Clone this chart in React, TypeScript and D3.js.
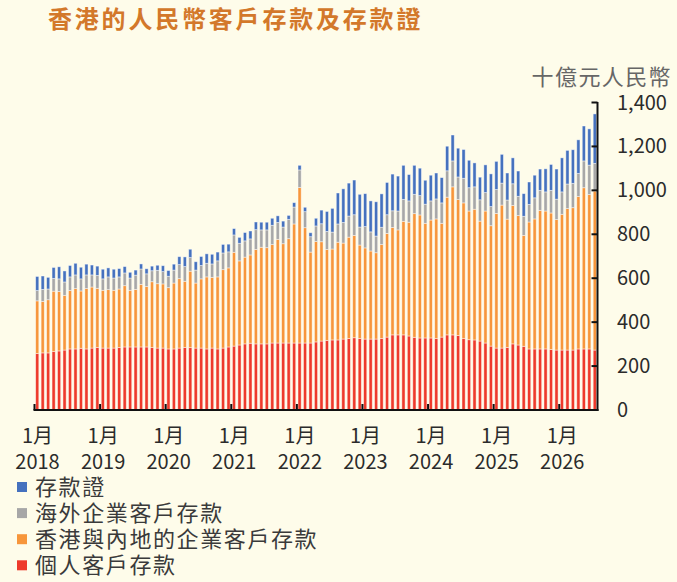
import React, { useRef, useEffect } from 'react';
import * as d3 from 'd3';

const WIDTH = 677;
const HEIGHT = 582;

const YEARS = ["2018", "2019", "2020", "2021", "2022", "2023", "2024", "2025", "2026"];
const MONTH_LABEL = "1月";
const MONTH_COUNT = 103;
const Y_TICKS = [0, 200, 400, 600, 800, 1000, 1200, 1400];

// 個人客戶存款
const personal = [
    257, 260, 260, 266, 269, 273, 278, 278, 281, 278, 282, 285,
    282, 282, 282, 285, 287, 287, 287, 287, 287, 284, 282, 282,
    278, 278, 282, 285, 284, 282, 282, 278, 282, 278, 282, 287,
    291, 296, 301, 304, 301, 301, 301, 305, 305, 305, 305, 305,
    305, 305, 305, 310, 314, 317, 319, 319, 323, 326, 329, 326,
    323, 323, 323, 326, 332, 342, 342, 342, 337, 331, 328, 328,
    328, 325, 332, 342, 342, 339, 325, 320, 319, 314, 305, 291,
    282, 282, 285, 301, 296, 290, 278, 278, 278, 278, 275, 273,
    273, 273, 273, 278, 278, 278, 273
];

// 香港與內地的企業客戶存款
const corporate = [
    240, 234, 242, 275, 270, 249, 266, 275, 261, 275, 278, 269,
    263, 266, 263, 266, 279, 258, 262, 285, 275, 300, 293, 292,
    279, 300, 316, 301, 348, 296, 315, 328, 322, 328, 357, 360,
    427, 383, 395, 402, 430, 440, 438, 448, 472, 452, 475, 542,
    708, 525, 414, 457, 452, 414, 414, 445, 437, 461, 466, 425,
    415, 401, 393, 427, 472, 489, 478, 517, 518, 563, 560, 522,
    537, 545, 518, 627, 674, 619, 618, 586, 595, 546, 601, 548,
    613, 651, 584, 630, 589, 505, 578, 592, 631, 628, 622, 594,
    618, 644, 648, 694, 734, 703, 724
];

// 海外企業客戶存款
const overseas = [
    47, 55, 49, 58, 58, 61, 62, 62, 55, 62, 55, 59,
    52, 58, 56, 55, 58, 56, 65, 70, 58, 50, 61, 56,
    52, 59, 64, 67, 62, 59, 61, 62, 61, 73, 76, 73,
    79, 80, 74, 73, 90, 79, 81, 88, 77, 76, 88, 77,
    80, 73, 70, 71, 82, 82, 77, 83, 94, 96, 94, 82,
    97, 87, 76, 79, 85, 76, 86, 100, 97, 88, 88, 87,
    87, 91, 93, 120, 118, 103, 112, 106, 102, 97, 84, 87,
    109, 100, 87, 99, 88, 87, 80, 96, 91, 87, 103, 93,
    102, 112, 111, 105, 122, 134, 126
];

// 存款證
const certificates = [
    64, 61, 53, 50, 55, 50, 52, 53, 53, 49, 45, 42,
    44, 41, 40, 38, 29, 26, 23, 23, 23, 21, 23, 27,
    26, 27, 36, 44, 38, 38, 41, 43, 44, 40, 39, 35,
    29, 27, 38, 36, 35, 35, 35, 32, 30, 27, 18, 20,
    21, 20, 18, 35, 62, 91, 108, 141, 153, 150, 158, 149,
    150, 141, 156, 152, 147, 167, 159, 155, 120, 132, 125, 109,
    117, 118, 115, 112, 118, 131, 131, 125, 109, 103, 126, 149,
    128, 131, 123, 118, 115, 103, 102, 103, 97, 105, 118, 137,
    155, 153, 153, 153, 159, 165, 225
];

const SERIES = [
    { key: "personal", label: "個人客戶存款", color: "#EE3A2B", values: personal },
    { key: "corporate", label: "香港與內地的企業客戶存款", color: "#F7963B", values: corporate },
    { key: "overseas", label: "海外企業客戶存款", color: "#A7A7A7", values: overseas },
    { key: "certificates", label: "存款證", color: "#4571BE", values: certificates }
];

const FONT = "'Noto Sans CJK TC', 'Noto Sans', sans-serif";

const App: React.FC = () => {
    const svgRef = useRef<SVGSVGElement>(null);

    useEffect(() => {
        if (!svgRef.current) return;
        const svg = d3.select(svgRef.current);
        svg.selectAll("*").remove();

        const left = 34.5;
        const right = 597.5;
        const top = 102.5;
        const bottom = 410;

        svg.append("rect")
            .attr("width", WIDTH)
            .attr("height", HEIGHT)
            .attr("fill", "#FEFCEA");

        const months = d3.range(MONTH_COUNT);
        const rows = months.map(i => {
            const row: any = { i };
            SERIES.forEach(s => { row[s.key] = s.values[i]; });
            return row;
        });

        const xScale = d3.scaleBand<number>()
            .domain(months)
            .range([left, right])
            .paddingInner(0.42)
            .paddingOuter(0.21);

        const yScale = d3.scaleLinear()
            .domain([0, 1400])
            .range([bottom, top]);

        const stacked = d3.stack<any>().keys(SERIES.map(s => s.key))(rows);

        const bars = svg.append("g");
        stacked.forEach((layer, li) => {
            bars.append("g")
                .attr("fill", SERIES[li].color)
                .selectAll("rect")
                .data(layer)
                .join("rect")
                .attr("x", (d: any) => xScale(d.data.i)!)
                .attr("width", xScale.bandwidth())
                .attr("y", d => yScale(d[1]))
                .attr("height", d => yScale(d[0]) - yScale(d[1]))
                .attr("stroke", "rgba(255,255,255,0.55)")
                .attr("stroke-width", 0.8);
        });

        // year boundaries: step * 12 from the start of the range
        const step = xScale.step();
        const yearX = (k: number) => xScale(k * 12)! - step * xScale.paddingInner() / 2;
        const boundaries = YEARS.map((_, k) => k === 0 ? left : yearX(k));

        const axis = svg.append("g").attr("stroke", "#111").attr("stroke-width", 2);
        axis.append("line")
            .attr("x1", left - 1).attr("x2", right + 1)
            .attr("y1", bottom).attr("y2", bottom);
        axis.append("line")
            .attr("x1", right).attr("x2", right)
            .attr("y1", top - 0.5).attr("y2", bottom + 1);

        boundaries.forEach(x => {
            axis.append("line")
                .attr("x1", x).attr("x2", x)
                .attr("y1", bottom - 6).attr("y2", bottom);
        });

        Y_TICKS.filter(v => v > 0).forEach(v => {
            axis.append("line")
                .attr("x1", right - 6).attr("x2", right)
                .attr("y1", yScale(v)).attr("y2", yScale(v));
        });

        const fmt = d3.format(",");
        svg.append("g")
            .selectAll("text")
            .data(Y_TICKS)
            .join("text")
            .attr("x", 617)
            .attr("y", d => yScale(d) + 7)
            .attr("fill", "#2b2b2b")
            .style("font-family", FONT)
            .style("font-size", "20px")
            .text(d => fmt(d));

        const xl = svg.append("g")
            .attr("fill", "#2b2b2b")
            .style("font-family", FONT)
            .style("font-size", "20px")
            .style("text-anchor", "middle");

        YEARS.forEach((yr, k) => {
            const cx = boundaries[k] + 3;
            xl.append("text").attr("x", cx).attr("y", 443).text(MONTH_LABEL);
            xl.append("text").attr("x", cx).attr("y", 469).text(yr);
        });

        svg.append("text")
            .attr("x", 48)
            .attr("y", 28)
            .attr("fill", "#D3782A")
            .style("font-family", FONT)
            .style("font-size", "24px")
            .style("font-weight", "700")
            .style("letter-spacing", "2.8px")
            .text("香港的人民幣客戶存款及存款證");

        svg.append("text")
            .attr("x", 672)
            .attr("y", 85)
            .attr("fill", "#666")
            .style("font-family", FONT)
            .style("font-size", "22px")
            .style("letter-spacing", "1.4px")
            .style("text-anchor", "end")
            .text("十億元人民幣");

        const legendItems = SERIES.slice().reverse();
        const legend = svg.append("g");
        legendItems.forEach((s, i) => {
            const cy = 487 + i * 26.1;
            legend.append("rect")
                .attr("x", 17)
                .attr("y", cy - 5)
                .attr("width", 10)
                .attr("height", 10)
                .attr("fill", s.color);
            legend.append("text")
                .attr("x", 35)
                .attr("y", cy + 8)
                .attr("fill", "#3a3a3a")
                .style("font-family", FONT)
                .style("font-size", "22px")
                .style("letter-spacing", "1.6px")
                .text(s.label);
        });
    }, []);

    return (
        <svg
            ref={svgRef}
            width={WIDTH}
            height={HEIGHT}
            style={{ position: "absolute", left: 0, top: 0, display: "block" }}
        />
    );
};

export default App;
